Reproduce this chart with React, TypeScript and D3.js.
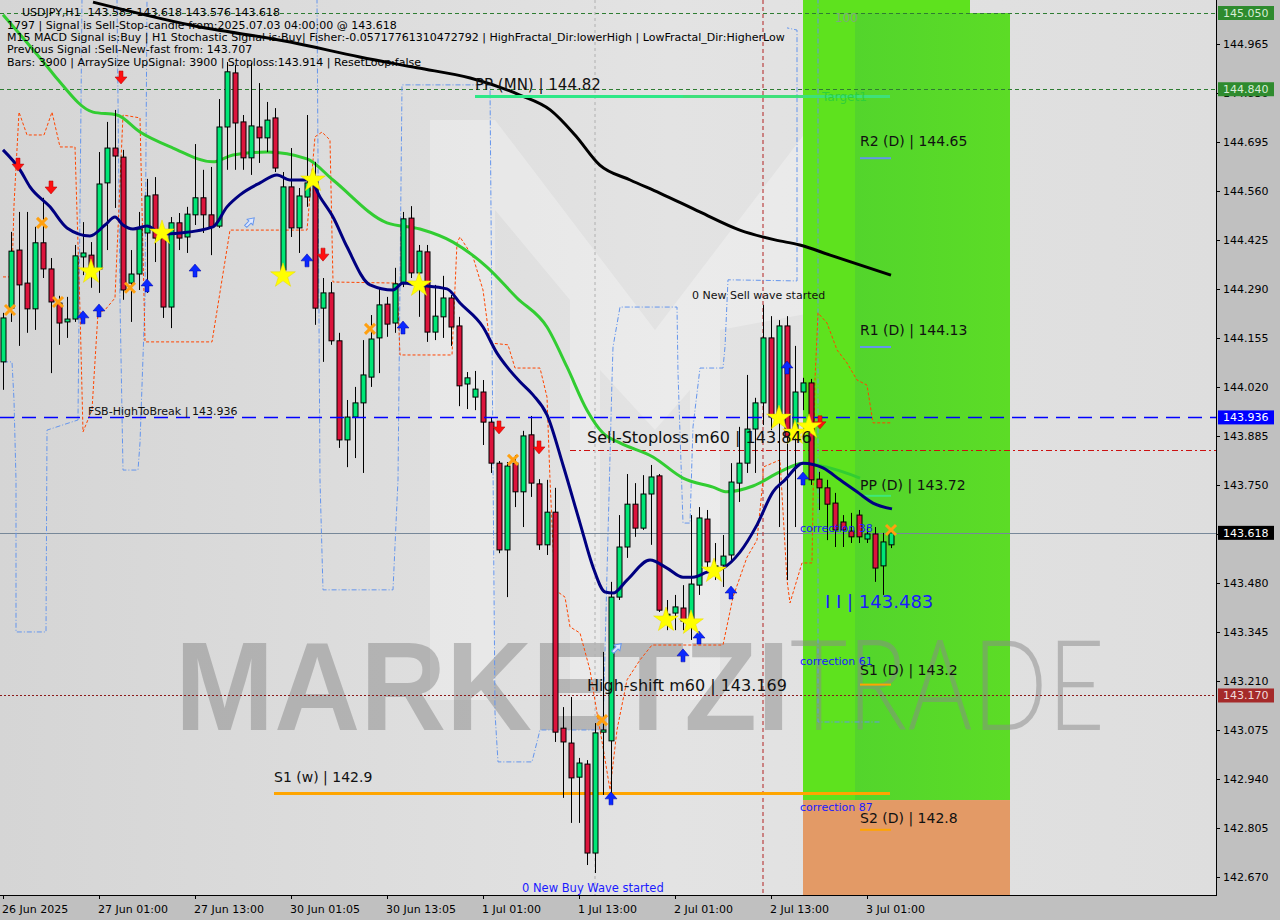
import React from "react";
import * as d3 from "d3";

// ---------- DATA ----------
const openP = [
  144.089,144.237,144.397,144.306,144.235,144.417,144.345,144.251,144.199,144.207,
  144.378,144.383,144.345,144.582,144.678,144.653,144.306,144.331,144.444,144.549,
  144.430,144.240,144.472,144.433,144.494,144.541,144.494,144.463,144.736,144.885,
  144.750,144.651,144.736,144.706,144.761,144.342,144.571,144.458,144.543,144.585,
  144.237,144.279,144.147,143.874,143.937,143.976,144.047,144.155,144.248,144.196,
  144.304,144.485,144.334,144.392,144.171,144.213,144.265,144.188,144.028,143.992,
  144.006,143.923,143.810,143.571,143.810,143.731,143.888,143.753,143.585,143.675,
  143.080,143.039,142.945,142.981,142.736,143.069,143.045,143.441,143.579,143.697,
  143.631,143.725,143.775,143.386,143.397,143.411,143.364,143.474,143.656,143.521,
  143.529,143.557,143.755,143.810,143.904,143.976,144.155,143.937,144.188,143.882,
  144.006,144.031,143.766,143.742,143.700,143.648,143.623,143.667,143.601,143.615,
  143.527,143.585,
];
const highP = [
  144.224,144.447,144.502,144.502,144.461,144.541,144.375,144.271,144.268,144.411,
  144.474,144.419,144.667,144.750,144.783,144.673,144.397,144.502,144.593,144.598,
  144.458,144.488,144.499,144.516,144.689,144.618,144.626,144.813,144.915,144.907,
  144.769,144.912,144.857,144.805,144.788,144.612,144.678,144.568,144.769,144.640,
  144.320,144.309,144.169,143.984,144.020,144.149,144.218,144.293,144.268,144.348,
  144.502,144.518,144.411,144.411,144.301,144.326,144.273,144.213,144.061,144.064,
  144.039,143.937,143.816,143.813,143.832,143.899,143.940,143.766,143.764,143.742,
  143.138,143.166,142.998,142.992,143.094,143.290,143.483,143.667,143.780,143.755,
  143.777,143.805,143.780,143.433,143.447,143.474,143.667,143.689,143.681,143.590,
  143.612,143.810,143.910,144.053,143.990,144.246,144.215,144.204,144.215,144.133,
  144.045,144.042,143.786,143.764,143.728,143.667,143.673,143.681,143.634,143.634,
  143.618,143.618,
];
const lowP = [
  144.012,144.199,144.133,144.169,144.177,144.320,144.058,144.136,144.155,144.199,
  144.328,144.293,144.279,144.397,144.513,144.260,144.199,144.287,144.279,144.364,
  144.210,144.182,144.397,144.389,144.466,144.444,144.383,144.458,144.618,144.618,
  144.618,144.604,144.637,144.667,144.612,144.323,144.433,144.389,144.516,144.191,
  144.089,144.136,143.852,143.799,143.824,143.783,144.020,144.058,144.158,144.169,
  144.295,144.320,144.213,144.144,144.149,144.155,144.133,143.967,143.959,143.956,
  143.860,143.783,143.562,143.441,143.689,143.634,143.717,143.571,143.557,143.042,
  142.888,142.819,142.819,142.703,142.681,142.896,142.896,143.433,143.549,143.607,
  143.626,143.585,143.400,143.350,143.350,143.350,143.323,143.447,143.507,143.488,
  143.469,143.543,143.703,143.783,143.783,143.915,143.901,143.634,143.488,143.634,
  143.956,143.750,143.681,143.598,143.579,143.579,143.590,143.590,143.590,143.483,
  143.447,143.576,
];
const closeP = [
  144.210,144.394,144.301,144.235,144.417,144.345,144.254,144.196,144.207,144.381,
  144.389,144.348,144.579,144.678,144.656,144.287,144.331,144.455,144.546,144.430,
  144.240,144.472,144.430,144.496,144.541,144.494,144.461,144.736,144.888,144.747,
  144.651,144.739,144.706,144.755,144.623,144.571,144.458,144.546,144.582,144.237,
  144.279,144.147,143.874,143.937,143.976,144.053,144.152,144.246,144.193,144.304,
  144.483,144.334,144.394,144.171,144.215,144.265,144.185,144.023,144.045,144.014,
  143.923,143.810,143.571,143.802,143.731,143.885,143.755,143.585,143.675,143.069,
  143.042,142.943,142.984,142.736,143.067,143.075,143.441,143.579,143.697,143.631,
  143.725,143.772,143.405,143.394,143.414,143.375,143.477,143.659,143.538,143.527,
  143.554,143.758,143.810,143.904,143.976,144.155,143.937,144.188,143.882,144.006,
  144.031,143.764,143.742,143.697,143.626,143.626,143.607,143.607,143.615,143.521,
  143.593,143.618,
];

const timeTickBars = [0, 12, 24, 36, 48, 60, 72, 84, 96, 108];
const timeTickLabels = ["26 Jun 2025","27 Jun 01:00","27 Jun 13:00","30 Jun 01:05","30 Jun 13:05","1 Jul 01:00","1 Jul 13:00","2 Jul 01:00","2 Jul 13:00","3 Jul 01:00"];
const priceTicks = [142.670,142.805,142.940,143.075,143.210,143.345,143.480,143.615,143.750,143.885,144.020,144.155,144.290,144.425,144.560,144.695,144.830,144.965];

// [bar, price] points of the indicator lines
const ma200 = [[11.25,145.080],[23.4,145.017],[35.9,144.970],[44.6,144.929],[51.75,144.899],[58.4,144.871],[64.6,144.824],[68.4,144.783],[71.5,144.714],[74.6,144.631],[78.4,144.590],[82.1,144.554],[87.1,144.502],[92.1,144.452],[96.5,144.425],[99.6,144.411],[103.4,144.383],[107.1,144.356],[111,144.328]];
const maGreen = [[0,145.045],[5.875,144.893],[6.875,144.866],[11.25,144.777],[14.25,144.769],[17.125,144.722],[21.25,144.678],[26.25,144.640],[28.75,144.659],[33,144.667],[38,144.648],[41.25,144.590],[48,144.472],[52.125,144.455],[56.25,144.419],[60.5,144.350],[64.25,144.265],[68,144.185],[70.5,144.075],[73,143.956],[75,143.893],[77.125,143.866],[81.25,143.827],[85,143.769],[88.75,143.744],[90.5,143.731],[93.75,143.747],[97.125,143.786],[100,143.810],[103,143.799],[107.125,143.769]];
const maNavy = [[0,144.673],[2.125,144.618],[3.375,144.571],[5.875,144.516],[8,144.458],[10.875,144.436],[12.75,144.466],[14,144.488],[15,144.466],[16.25,144.455],[18,144.463],[20,144.441],[22.125,144.444],[26.25,144.461],[28,144.516],[29.625,144.549],[32.125,144.582],[34.25,144.604],[35.875,144.590],[38.375,144.590],[39.625,144.543],[41.25,144.488],[43,144.406],[45.875,144.301],[48.75,144.287],[50,144.306],[51.75,144.301],[55.5,144.290],[57.125,144.251],[60,144.185],[61.75,144.113],[63,144.075],[64.625,144.034],[66.25,143.998],[68,143.943],[70,143.805],[72.125,143.645],[73.75,143.524],[75.25,143.455],[76.25,143.452],[78,143.488],[80.875,143.543],[83,143.521],[85,143.496],[86.25,143.496],[88,143.510],[90,143.521],[92.125,143.565],[94.25,143.640],[96.25,143.731],[97.75,143.764],[100,143.810],[102.5,143.797],[104.625,143.764],[106.75,143.731],[108.75,143.700],[111.125,143.684]];
const envOrange = [[0,144.323],[1.125,144.323],[1.375,144.521],[2,144.777],[3,144.714],[5.125,144.714],[6.125,144.777],[7.125,144.681],[9,144.681],[9.625,144.232],[10,143.896],[11.125,143.957],[11.875,144.224],[12.75,144.232],[14,144.265],[15,144.769],[17.125,144.761],[17.75,144.144],[26.125,144.144],[28.375,144.452],[38,144.452],[39,144.709],[39.875,144.722],[40.875,144.700],[41.25,144.309],[49.25,144.306],[49.625,144.108],[56.125,144.108],[56.75,144.417],[57.125,144.433],[58.75,144.378],[60,144.287],[60.875,144.141],[63.125,144.136],[64,144.072],[67.125,144.072],[68,143.992],[68.375,143.764],[69,143.461],[70.25,143.441],[70.875,143.359],[72.125,143.342],[73.375,143.240],[74.25,143.122],[75,143.028],[75.875,142.910],[76.75,143.075],[78,143.213],[79.625,143.268],[81.125,143.309],[90,143.309],[91.25,143.441],[93,143.551],[94.25,143.598],[95,143.764],[95,143.799],[97.125,143.819],[98,143.488],[98.375,143.425],[99.875,143.535],[101.125,143.535],[101.5,144.039],[101.875,144.224],[103,144.196],[104.25,144.122],[105.5,144.086],[106.75,144.039],[108,144.025],[108.75,143.921],[111.125,143.921]];
const stepBlue1 = [[0,144.089],[1.125,144.089],[1.375,143.984],[1.625,143.764],[1.625,143.345],[5.375,143.345],[5.5,143.901],[9.375,143.929],[9.875,145.09]];
const stepBlue2 = [[14.25,145.09],[14.625,144.260],[15,143.791],[16.875,143.791],[17.125,143.866],[17.75,144.260],[18,145.09]];
const stepBlue3 = [[39.25,145.09],[39.625,143.764],[40,143.461],[48.75,143.461],[49.375,143.764],[49.875,144.852],[60.875,144.852],[61.5,143.122],[61.875,142.987],[66.125,142.987],[67.125,143.075],[75,143.075],[75.5,143.507],[76.125,144.039],[76.25,144.130],[77.125,144.240],[84.25,144.240],[84.375,144.058],[85,143.645],[85.875,143.645],[86.25,143.910],[87.125,144.072],[90,144.072],[90.25,144.130],[90.625,144.315],[99.25,144.312],[99.25,145.003],[98,145.009]];
const stepBlue4 = [[101.875,145.09],[101.875,143.097],[109.625,143.097]];

const redArrows = [[1.875,144.631],[6,144.568],[14.75,144.871],[40,144.383],[62,143.907],[67,143.852],[102.125,143.921]];
const blueArrows = [[10,144.213],[12,144.232],[18,144.301],[24,144.342],[38,144.370],[50,144.185],[76,142.888],[85,143.282],[87,143.331],[91,143.455],[98,144.075],[100,143.769]];
const stars = [[11,144.337],[19.875,144.444],[35,144.326],[38.75,144.590],[52,144.301],[82.875,143.378],[86,143.370],[88.875,143.513],[97,143.934],[99,143.893],[100.75,143.910]];
const crosses = [[0.875,144.232],[4.875,144.472],[6.875,144.254],[15.875,144.293],[45.875,144.180],[63.75,143.819],[74.875,143.102],[111,143.626]];
const hollowArrows = [[30.875,144.474],[76.75,143.301]];

const headerTitle = "USDJPY,H1  143.585 143.618 143.576 143.618";
const headerLines = [
  "1797 | Signal is Sell-Stop-candle from:2025.07.03 04:00:00 @ 143.618",
  "M15 MACD Signal is:Buy | H1 Stochastic Signal is:Buy| Fisher:-0.05717761310472792 | HighFractal_Dir:lowerHigh | LowFractal_Dir:HigherLow",
  "Previous Signal :Sell-New-fast from: 143.707",
  "Bars: 3900 | ArraySize UpSignal: 3900 | Stoploss:143.914 | ResetLoop:false",
];

const F = "'DejaVu Sans', Verdana, sans-serif";
const PW = 1216, PH = 895;

function arrowDownPath(cx: number, cy: number) {
  return `M${cx - 2},${cy - 7}L${cx + 2},${cy - 7}L${cx + 2},${cy - 1}L${cx + 6},${cy - 1}L${cx},${cy + 6}L${cx - 6},${cy - 1}L${cx - 2},${cy - 1}Z`;
}
function arrowUpPath(cx: number, cy: number) {
  return `M${cx - 2},${cy + 7}L${cx + 2},${cy + 7}L${cx + 2},${cy + 1}L${cx + 6},${cy + 1}L${cx},${cy - 6}L${cx - 6},${cy + 1}L${cx - 2},${cy + 1}Z`;
}

export default function App() {
  const x = d3.scaleLinear().domain([0, 111]).range([3, 891]);
  const y = d3.scaleLinear().domain([142.67, 145.05]).range([877, 13]);
  const lin = d3.line<number[]>().x((d) => x(d[0])).y((d) => y(d[1]));
  const smooth = d3.line<number[]>().x((d) => x(d[0])).y((d) => y(d[1])).curve(d3.curveMonotoneX);
  const star = d3.symbol().type(d3.symbolStar).size(190)() as string;

  const candles = openP.map((o, i) => ({ i, o, h: highP[i], l: lowP[i], c: closeP[i] }));

  const hLine = (p: number) => Math.round(y(p)) + 0.5;

  const axisBoxes: [number, string, string][] = [
    [145.05, "#2e8b2e", "#d6ecd6"],
    [144.84, "#2e8b2e", "#d6ecd6"],
    [143.936, "#0000ff", "#ffffff"],
    [143.618, "#000000", "#ffffff"],
    [143.17, "#a52a2a", "#f0dcdc"],
  ];

  const zoneX0 = x(100), zoneX1 = x(125.875), zoneXmid = x(106.5), zoneTopX1 = x(120.875);
  const zoneY0 = y(145.05), zoneY1 = y(142.882);

  return (
    <svg width={1280} height={920} style={{ position: "absolute", left: 0, top: 0, display: "block" }} fontFamily={F}>
      <defs>
        <linearGradient id="bg" x1="0" x2="1" y1="0" y2="0">
          <stop offset="0" stopColor="#d5d5d5" />
          <stop offset="0.55" stopColor="#e3e3e3" />
          <stop offset="1" stopColor="#dedede" />
        </linearGradient>
        <linearGradient id="zoneG" x1="0" x2="1" y1="0" y2="0">
          <stop offset="0" stopColor="#53d52c" />
          <stop offset="1" stopColor="#5cdc26" />
        </linearGradient>
        <clipPath id="plot">
          <rect x={0} y={0} width={PW} height={PH} />
        </clipPath>
      </defs>
      <rect x={0} y={0} width={1280} height={920} fill="#c0c0c0" />
      <rect x={0} y={0} width={PW} height={PH} fill="url(#bg)" />

      <g clipPath="url(#plot)">
        {/* faint logo */}
        <path d="M430,120 L495,120 L655,330 L815,120 L880,120 L880,300 L720,330 L720,700 L690,700 L690,390 L655,430 L600,370 L600,700 L570,700 L570,300 L495,210 L495,700 L430,700 Z" fill="#ffffff" opacity={0.28} />

        {/* target zones */}
        <rect x={zoneX0} y={zoneY0} width={zoneX1 - zoneX0} height={zoneY1 - zoneY0} fill="#5ee21e" />
        <rect x={zoneXmid} y={zoneY0} width={zoneX1 - zoneXmid} height={zoneY1 - zoneY0} fill="url(#zoneG)" />
        <rect x={zoneX0} y={0} width={zoneTopX1 - zoneX0} height={zoneY0} fill="#5ee21e" />
        <rect x={zoneX0} y={zoneY1} width={zoneX1 - zoneX0} height={PH - zoneY1} fill="#e39a66" />

        {/* watermark */}
        <text x={175} y={730} fontFamily="'Liberation Sans', Arial, sans-serif" fontWeight="bold" fontSize={126} textLength={615} lengthAdjust="spacingAndGlyphs" fill="#7a7a7a" opacity={0.42}>MARKETZI</text>
        <text x={790} y={730} fontFamily="Lato, 'Open Sans', sans-serif" fontWeight={300} fontSize={126} textLength={315} lengthAdjust="spacingAndGlyphs" fill="#8a8a8a" opacity={0.5}>TRADE</text>

        {/* horizontal levels */}
        <line x1={0} x2={PW} y1={hLine(145.05)} y2={hLine(145.05)} stroke="#2e7d32" strokeDasharray="4,3" />
        <line x1={0} x2={PW} y1={hLine(144.84)} y2={hLine(144.84)} stroke="#2e7d32" strokeDasharray="4,3" />
        <line x1={0} x2={PW} y1={hLine(143.618)} y2={hLine(143.618)} stroke="#778899" />
        <line x1={0} x2={PW} y1={hLine(143.17)} y2={hLine(143.17)} stroke="#8b1a1a" strokeDasharray="2,2" />
        <line x1={x(70.875)} x2={PW} y1={hLine(143.846)} y2={hLine(143.846)} stroke="#cc1111" strokeDasharray="6,3,2,3" />
        <line x1={x(95)} x2={x(95)} y1={0} y2={PH} stroke="#b22222" strokeDasharray="4,3" />
        <line x1={x(74)} x2={x(74)} y1={0} y2={PH} stroke="#b0b0b0" strokeDasharray="3,3" />

        {/* step / envelope lines */}
        {[stepBlue1, stepBlue2, stepBlue3, stepBlue4].map((s, k) => (
          <path key={k} d={lin(s) as string} fill="none" stroke="#6495ed" strokeWidth={1} strokeDasharray="5,2,1,2" />
        ))}
        <path d={lin(envOrange) as string} fill="none" stroke="#ff4500" strokeWidth={1} strokeDasharray="3,2" />

        {/* moving averages */}
        <path d={smooth(ma200) as string} fill="none" stroke="#000000" strokeWidth={3} />
        <path d={smooth(maGreen) as string} fill="none" stroke="#32cd32" strokeWidth={3} />

        {/* weekly / monthly pivots */}
        <line x1={x(33.875)} x2={x(110.875)} y1={y(142.9)} y2={y(142.9)} stroke="#ffa500" strokeWidth={3} />
        <line x1={x(59)} x2={x(110.875)} y1={y(144.82)} y2={y(144.82)} stroke="#2ee887" strokeWidth={3} />
        <line x1={x(85)} x2={x(110.875)} y1={y(144.82)} y2={y(144.82)} stroke="#3ee07a" strokeWidth={3} />

        {/* daily pivots underline */}
        <line x1={x(107.125)} x2={x(111)} y1={y(144.65)} y2={y(144.65)} stroke="#6495ed" strokeWidth={2} />
        <line x1={x(107.125)} x2={x(111)} y1={y(144.13)} y2={y(144.13)} stroke="#6495ed" strokeWidth={2} />
        <line x1={x(107.125)} x2={x(111)} y1={y(143.72)} y2={y(143.72)} stroke="#3ee87a" strokeWidth={2} />
        <line x1={x(107.125)} x2={x(111)} y1={y(143.2)} y2={y(143.2)} stroke="#ffa500" strokeWidth={2} />
        <line x1={x(107.125)} x2={x(111)} y1={y(142.8)} y2={y(142.8)} stroke="#ffa500" strokeWidth={2} />

        {/* candles */}
        {candles.map((d) => {
          const cx = Math.round(x(d.i)) + 0.5;
          const top = Math.min(y(d.o), y(d.c));
          const bot = Math.max(y(d.o), y(d.c));
          return (
            <g key={d.i}>
              <line x1={cx} x2={cx} y1={y(d.h)} y2={y(d.l)} stroke="#000" strokeWidth={1} />
              <rect x={cx - 2.5} y={top} width={5} height={Math.max(1, bot - top)} fill={d.c >= d.o ? "#00e676" : "#dc143c"} stroke="#000" strokeWidth={1} />
            </g>
          );
        })}

        <path d={smooth(maNavy) as string} fill="none" stroke="#000080" strokeWidth={3} />
        <line x1={0} x2={PW} y1={hLine(143.936)} y2={hLine(143.936)} stroke="#0000ff" strokeWidth={1.3} strokeDasharray="14,8" />

        {/* markers */}
        {redArrows.map((p, k) => (
          <path key={"ra" + k} d={arrowDownPath(x(p[0]), y(p[1]))} fill="#ff1010" stroke="#b00000" strokeWidth={0.5} />
        ))}
        {blueArrows.map((p, k) => (
          <path key={"ba" + k} d={arrowUpPath(x(p[0]), y(p[1]))} fill="#0a28ff" stroke="#0000a0" strokeWidth={0.5} />
        ))}
        {hollowArrows.map((p, k) => (
          <g key={"ha" + k} transform={`translate(${x(p[0])},${y(p[1])}) rotate(45)`}>
            <path d="M-1.5,6L1.5,6L1.5,0L4,0L0,-6L-4,0L-1.5,0Z" fill="#dfe8ff" stroke="#6495ed" strokeWidth={1} />
          </g>
        ))}
        {stars.map((p, k) => (
          <path key={"st" + k} d={star} transform={`translate(${x(p[0])},${y(p[1])})`} fill="#ffff00" stroke="#e8d800" strokeWidth={0.5} />
        ))}
        {crosses.map((p, k) => (
          <g key={"cr" + k} transform={`translate(${x(p[0])},${y(p[1])})`} stroke="#ffa010" strokeWidth={3}>
            <line x1={-5} y1={-5} x2={5} y2={5} />
            <line x1={-5} y1={5} x2={5} y2={-5} />
          </g>
        ))}

        {/* text labels */}
        <text x={x(59)} y={y(144.82) - 6} fontSize={15} fill="#111">PP (MN) | 144.82</text>
        <text x={x(102.375)} y={y(144.82) + 5} fontSize={12} fill="#2fcf3a">Target1</text>
        <text x={x(104)} y={22} fontSize={12} fill="#7fa87f">100</text>
        <text x={x(107.125)} y={y(144.65) - 12} fontSize={14} fill="#111">R2 (D) | 144.65</text>
        <text x={x(107.125)} y={y(144.13) - 12} fontSize={14} fill="#111">R1 (D) | 144.13</text>
        <text x={x(107.125)} y={y(143.72) - 6} fontSize={14} fill="#111">PP (D) | 143.72</text>
        <text x={x(107.125)} y={y(143.2) - 10} fontSize={14} fill="#111">S1 (D) | 143.2</text>
        <text x={x(107.125)} y={y(142.8) - 7} fontSize={14} fill="#111">S2 (D) | 142.8</text>
        <text x={x(33.875)} y={y(142.9) - 12} fontSize={14} fill="#111">S1 (w) | 142.9</text>
        <text x={x(10.625)} y={y(143.936) - 2} fontSize={11} fill="#111">FSB-HighToBreak | 143.936</text>
        <text x={x(73)} y={y(143.846) - 7} fontSize={16} fill="#111">Sell-Stoploss m60 | 143.846</text>
        <text x={x(73)} y={y(143.169) - 5} fontSize={16} fill="#111">High-shift m60 | 143.169</text>
        <text x={x(99.625)} y={y(143.618) - 1} fontSize={11} fill="#1a1aff">correction 38</text>
        <text x={x(99.625)} y={y(143.25) - 1} fontSize={11} fill="#1a1aff">correction 61</text>
        <text x={x(99.625)} y={y(142.85) - 1} fontSize={11} fill="#1a1aff">correction 87</text>
        <text x={x(102.75)} y={y(143.483) + 26} fontSize={18} fill="#1a1aff">I I | 143.483</text>
        <text x={x(86.125)} y={y(144.29) + 10} fontSize={11} fill="#111">0 New Sell wave started</text>
        <text x={x(64.875)} y={892} fontSize={11.5} fill="#1a1aff">0 New Buy Wave started</text>
      </g>

      {/* header text */}
      <text x={22} y={16} fontSize={11} fill="#000" style={{ whiteSpace: "pre" }}>{headerTitle}</text>
      {headerLines.map((t, k) => (
        <text key={k} x={7} y={29 + k * 12.2} fontSize={11} fill="#000">{t}</text>
      ))}

      {/* axes frame */}
      <line x1={PW + 0.5} x2={PW + 0.5} y1={0} y2={PH + 1} stroke="#000" />
      <line x1={0} x2={PW + 1} y1={PH + 0.5} y2={PH + 0.5} stroke="#000" />

      {/* price axis */}
      {priceTicks.map((p, k) => (
        <g key={"pt" + k}>
          <line x1={PW} x2={PW + 4} y1={hLine(p)} y2={hLine(p)} stroke="#000" />
          <text x={1223} y={y(p) + 4} fontSize={11} fill="#000">{p.toFixed(3)}</text>
        </g>
      ))}
      {axisBoxes.map(([p, bg, fg], k) => (
        <g key={"ab" + k}>
          <rect x={1218} y={y(p) - 7} width={56} height={14} fill={bg} />
          <text x={1223} y={y(p) + 4} fontSize={11} fill={fg}>{p.toFixed(3)}</text>
        </g>
      ))}

      {/* time axis */}
      {timeTickBars.map((b, k) => (
        <g key={"tt" + k}>
          <line x1={Math.round(x(b)) + 0.5} x2={Math.round(x(b)) + 0.5} y1={PH} y2={PH + 4} stroke="#000" />
          <text x={x(b) - 1} y={913} fontSize={11} fill="#000">{timeTickLabels[k]}</text>
        </g>
      ))}
    </svg>
  );
}
